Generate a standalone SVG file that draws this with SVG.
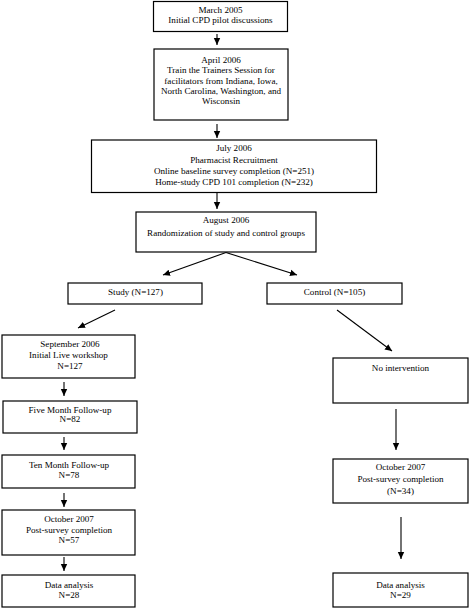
<svg xmlns="http://www.w3.org/2000/svg" width="469" height="608" viewBox="0 0 469 608">
<style>
rect{fill:#fff;stroke:#000;stroke-width:1.2}
text{font-family:"Liberation Serif","Times New Roman",serif;font-size:9.1px;fill:#000;text-anchor:middle}
.c line{stroke:#000;stroke-width:1.1}
</style>
<defs>
<marker id="ah" markerWidth="8" markerHeight="8" refX="7" refY="4" orient="auto" markerUnits="userSpaceOnUse">
<path d="M0,0.8 L7,4 L0,7.2 Z" fill="#000"/>
</marker>
</defs>
<rect x="0" y="0" width="469" height="608" style="stroke:none"/>
<g id="n1"><rect x="153.5" y="1.5" width="134" height="30"/><text x="220.5" y="12.5">March 2005</text><text x="220.5" y="23.2">Initial CPD pilot discussions</text></g>
<g id="n2"><rect x="154" y="49" width="134" height="71"/><text x="221" y="63.2">April 2006</text><text x="221" y="73.3">Train the Trainers Session for</text><text x="221" y="84">facilitators from Indiana, Iowa,</text><text x="221" y="94">North Carolina, Washington, and</text><text x="221" y="104">Wisconsin</text></g>
<g id="n3"><rect x="91.5" y="140" width="285" height="52.5"/><text x="234" y="150.5">July 2006</text><text x="234" y="162.5">Pharmacist Recruitment</text><text x="234" y="174">Online baseline survey completion (N=251)</text><text x="234" y="185">Home-study CPD 101 completion (N=232)</text></g>
<g id="n4"><rect x="136" y="212" width="180" height="40"/><text x="226" y="223.2">August 2006</text><text x="226" y="235.5">Randomization of study and control groups</text></g>
<g id="n5"><rect x="68" y="283" width="134" height="21"/><text x="135.5" y="295">Study (N=127)</text></g>
<g id="n6"><rect x="267" y="283" width="135" height="21"/><text x="334.5" y="295">Control (N=105)</text></g>
<g id="n7"><rect x="2" y="335" width="133" height="43"/><text x="70" y="346.5">September 2006</text><text x="68.5" y="358">Initial Live workshop</text><text x="70" y="369">N=127</text></g>
<g id="n8"><rect x="3" y="401" width="134" height="32"/><text x="70" y="412.5">Five Month Follow-up</text><text x="70" y="421.5">N=82</text></g>
<g id="n9"><rect x="2" y="455" width="133" height="33"/><text x="69" y="468">Ten Month Follow-up</text><text x="69" y="477.5">N=78</text></g>
<g id="n10"><rect x="2" y="510" width="133" height="45"/><text x="69" y="522">October 2007</text><text x="69" y="533">Post-survey completion</text><text x="69" y="543">N=57</text></g>
<g id="n11"><rect x="2" y="575" width="133" height="32"/><text x="69" y="587.5">Data analysis</text><text x="69" y="598">N=28</text></g>
<g id="n12"><rect x="333" y="358" width="135" height="45"/><text x="400.5" y="370.5">No intervention</text></g>
<g id="n13"><rect x="333" y="459" width="135" height="44"/><text x="400.5" y="470">October 2007</text><text x="400.5" y="481.5">Post-survey completion</text><text x="400.5" y="494">(N=34)</text></g>
<g id="n14"><rect x="333" y="573" width="135" height="34"/><text x="400.5" y="587.5">Data analysis</text><text x="400.5" y="598">N=29</text></g>
<g class="c" id="connectors">
<line x1="217" y1="34" x2="217" y2="45" marker-end="url(#ah)"/>
<line x1="217" y1="124" x2="217" y2="138" marker-end="url(#ah)"/>
<line x1="217" y1="193" x2="217" y2="209" marker-end="url(#ah)"/>
<line x1="226" y1="252.5" x2="163" y2="275" marker-end="url(#ah)"/>
<line x1="226" y1="252.5" x2="297" y2="275" marker-end="url(#ah)"/>
<line x1="115" y1="310" x2="78" y2="328" marker-end="url(#ah)"/>
<line x1="337" y1="310" x2="392" y2="351" marker-end="url(#ah)"/>
<line x1="64" y1="382" x2="64" y2="396" marker-end="url(#ah)"/>
<line x1="64" y1="437" x2="64" y2="450" marker-end="url(#ah)"/>
<line x1="64" y1="493" x2="64" y2="507" marker-end="url(#ah)"/>
<line x1="64" y1="557" x2="64" y2="571" marker-end="url(#ah)"/>
<line x1="396" y1="409" x2="396" y2="450" marker-end="url(#ah)"/>
<line x1="401" y1="517" x2="401" y2="559" marker-end="url(#ah)"/>
</g>
</svg>
